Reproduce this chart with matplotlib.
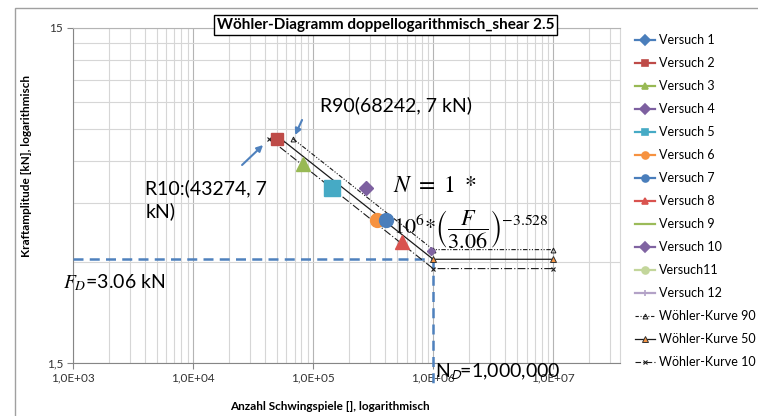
import matplotlib
matplotlib.use('Agg')
import matplotlib.pyplot as plt
from matplotlib.lines import Line2D
from matplotlib.patches import Rectangle
from matplotlib.ticker import FixedLocator, LogLocator, NullFormatter

plt.rcParams['font.family'] = ['Lato', 'DejaVu Sans']
plt.rcParams['mathtext.fontset'] = 'stix'

# Versuche: Schwingspiele N und Kraftamplitude F [kN]
versuch_labels = ['Versuch 1', 'Versuch 2', 'Versuch 3', 'Versuch 4', 'Versuch 5',
                  'Versuch 6', 'Versuch 7', 'Versuch 8', 'Versuch 9', 'Versuch 10',
                  'Versuch11', 'Versuch 12']
versuch_n = [[], [49800], [82000], [275000], [143000], [340000], [403000],
             [548000], [], [955000], [], []]
versuch_f = [[], [7.0], [5.9], [5.0], [5.0], [4.0], [4.0], [3.45], [], [3.25], [], []]

# Woehler-Kurven (90 / 50 / 10 %)
wk90_n = [68242, 1e6, 1e7]
wk90_f = [7.0, 3.27, 3.27]
wk50_n = [53970, 1e6, 1e7]
wk50_f = [7.0, 3.06, 3.06]
wk10_n = [43274, 1e6, 1e7]
wk10_f = [7.0, 2.87, 2.87]

f_d = 3.06
n_d = 1e6

# styles
v_colors = ['#4A7EBB', '#BE4B48', '#98B954', '#7D60A0', '#46AAC5', '#F69240',
            '#4A7EBB', '#D9534F', '#9BBB59', '#8064A2', '#C3D69B', '#B3A2C7']
v_markers = ['D', 's', '^', 'D', 's', 'o', 'o', '^', '', 'D', 'o', '|']
v_sizes = [7, 9, 10, 7.5, 11, 10, 10, 10, 0, 4.5, 8, 8]

fig = plt.figure(figsize=(7.58, 4.16), dpi=100)
ax = fig.add_axes([73 / 758, 53 / 416, 547 / 758, 335 / 416])

for n, f, c, m, s in zip(versuch_n, versuch_f, v_colors, v_markers, v_sizes):
    ax.plot(n, f, linestyle='none', marker=m, ms=s, color=c, zorder=5)

line_c = '#1a1a1a'
ax.plot(wk90_n, wk90_f, color=line_c, lw=0.8, dashes=(4, 1.5, 1, 1.5, 1, 1.5),
        marker='^', ms=3.5, mfc='none', mec=line_c, mew=0.7, zorder=4)
ax.plot(wk50_n, wk50_f, color=line_c, lw=0.9, marker='^', ms=4,
        mfc='#F79646', mec='#333333', mew=0.7, zorder=4)
ax.plot(wk10_n, wk10_f, color=line_c, lw=0.8, dashes=(7, 2, 1, 2),
        marker='x', ms=3.5, mew=0.8, zorder=4)

# Dauerfestigkeit
blue = '#4F81BD'
ax.plot([1e3, n_d], [f_d, f_d], color=blue, lw=1.8, dashes=(4, 2.5), zorder=3)
ax.plot([n_d, n_d], [f_d, 1.27], color=blue, lw=1.8, dashes=(4, 2.5),
        clip_on=False, zorder=3)

ax.set_xscale('log')
ax.set_yscale('log')
ax.set_xlim(1e3, 3.6e7)
ax.set_ylim(1.5, 15)

ax.xaxis.set_major_locator(FixedLocator([1e3, 1e4, 1e5, 1e6, 1e7]))
ax.xaxis.set_minor_locator(LogLocator(base=10, subs=range(2, 10), numticks=20))
ax.set_xticklabels(['1,0E+03', '1,0E+04', '1,0E+05', '1,0E+06', '1,0E+07'])
ax.xaxis.set_minor_formatter(NullFormatter())
ax.yaxis.set_major_locator(FixedLocator([1.5, 15]))
ax.set_yticklabels(['1,5', '15'])
ax.yaxis.set_minor_locator(FixedLocator([3, 4.5, 6, 7.5, 9, 10.5, 12, 13.5]))
ax.yaxis.set_minor_formatter(NullFormatter())

ax.grid(which='major', color='#B4B4B4', lw=0.8)
ax.grid(which='minor', color='#D6D6D6', lw=0.8)
ax.set_axisbelow(True)
ax.tick_params(which='major', length=4, color='#868686', labelsize=8.5,
               labelcolor='#333333', pad=3)
ax.tick_params(which='minor', length=0)
for side in ['left', 'bottom']:
    ax.spines[side].set_color('#868686')
ax.spines['top'].set_color('#B4B4B4')
ax.spines['right'].set_color('#D6D6D6')
for sp in ax.spines.values():
    sp.set_linewidth(0.8)

ax.set_xlabel('Anzahl Schwingspiele [], logarithmisch', fontsize=8.5, fontweight='bold')
ax.set_ylabel('Kraftamplitude [kN], logarithmisch', fontsize=8.5, fontweight='bold')
ax.xaxis.set_label_coords(0.47, -0.112)
ax.yaxis.set_label_coords(-0.075, 0.588)

# annotations
big = 14
ax.text(0.452, 0.770, 'R90(68242, 7 kN)', transform=ax.transAxes, fontsize=big,
        ha='left', va='center')
ax.text(0.132, 0.487, 'R10:(43274, 7\nkN)', transform=ax.transAxes, fontsize=big,
        ha='left', va='center', linespacing=1.3)
ax.text(0.585, 0.531, r'$N\ =\ 1\ *$', transform=ax.transAxes, fontsize=17,
        ha='left', va='center')
ax.text(0.585, 0.400, r'$10^6{*}\left(\dfrac{F}{3.06}\right)^{-3.528}$',
        transform=ax.transAxes, fontsize=16, ha='left', va='center')
ax.text(-0.018, 0.239, r'$F_D$=3.06 kN', transform=ax.transAxes, fontsize=big,
        ha='left', va='center')
ax.text(0.662, -0.027, r'N$_{\mathsf{D}}$=1,000,000', transform=ax.transAxes,
        fontsize=big, ha='left', va='center', math_fontfamily='stixsans')

ax.annotate('', xy=(70800, 7.19), xytext=(80900, 7.97),
            arrowprops=dict(arrowstyle='-|>', color=blue, lw=1.5,
                            mutation_scale=9, shrinkA=0, shrinkB=0))
ax.annotate('', xy=(38300, 6.71), xytext=(25600, 5.85),
            arrowprops=dict(arrowstyle='-|>', color=blue, lw=1.5,
                            mutation_scale=9, shrinkA=0, shrinkB=0))

# title box
fig.text(385.5 / 758, 1 - 25 / 416, 'Wöhler-Diagramm doppellogarithmisch_shear 2.5',
         fontsize=11, fontweight='bold', ha='center', va='center',
         bbox=dict(boxstyle='square,pad=0.2', fc='white', ec='black', lw=1))

# legend
handles = []
for c, m in zip(v_colors, v_markers):
    handles.append(Line2D([], [], color=c, lw=1.6, marker=m if m else None, ms=5,
                          mew=1.2))
handles.append(Line2D([], [], color=line_c, lw=0.8, dashes=(3, 1.5, 1, 1.5),
                      marker='^', ms=3.5, mfc='none', mew=0.7))
handles.append(Line2D([], [], color=line_c, lw=0.9, marker='^', ms=4,
                      mfc='#F79646', mec='#333333', mew=0.7))
handles.append(Line2D([], [], color=line_c, lw=0.8, dashes=(5, 2, 1, 2),
                      marker='x', ms=3.5, mew=0.8))
labels = versuch_labels + ['Wöhler-Kurve 90', 'Wöhler-Kurve 50', 'Wöhler-Kurve 10']
fig.legend(handles, labels, loc='upper left', bbox_to_anchor=(635 / 758, 1 - 34 / 416),
           frameon=False, fontsize=9, handlelength=1.6, handletextpad=0.3,
           labelspacing=0.88, borderpad=0, borderaxespad=0)

# outer chart border
fig.add_artist(Rectangle((15 / 758, -0.1), 1.0, (416 - 8) / 416 + 0.1,
                         transform=fig.transFigure, fill=False, ec='#A0A0A0', lw=1))

fig.savefig('out.png', dpi=100)
